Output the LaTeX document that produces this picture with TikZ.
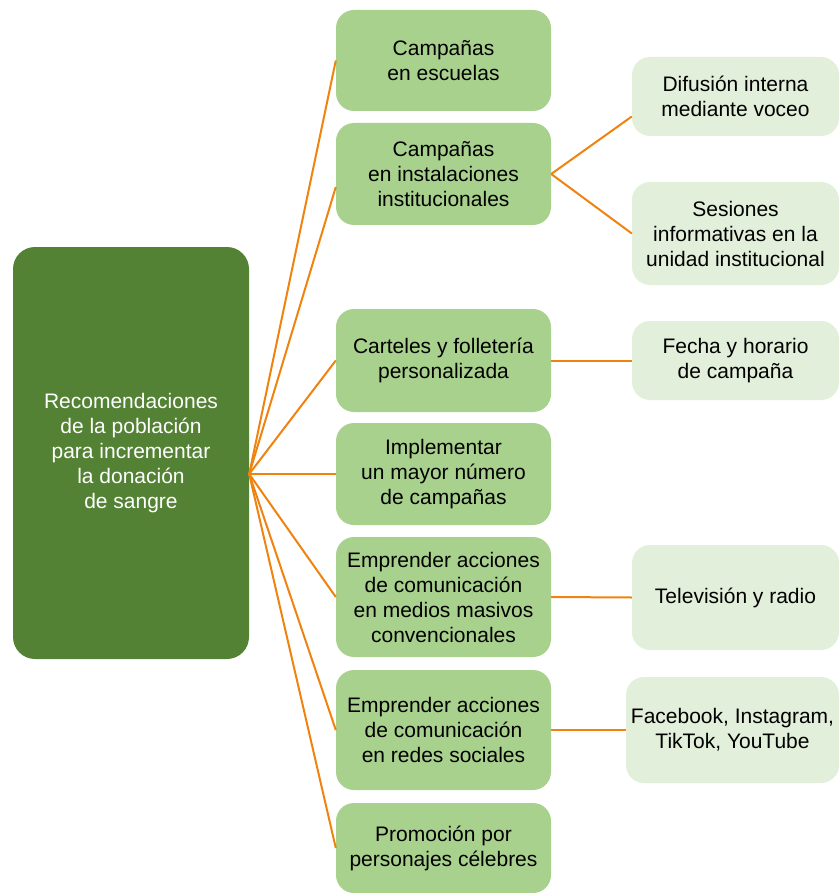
\documentclass[tikz,border=0pt]{standalone}
\usepackage{fontspec}
\setmainfont{Liberation Sans}
\usepackage{tikz}
\usetikzlibrary{calc}
\definecolor{darkgreen}{HTML}{548235}
\definecolor{midgreen}{HTML}{A9D18E}
\definecolor{palegreen}{HTML}{E2EFDA}
\definecolor{linkorange}{HTML}{F0820F}

\begin{document}
\begin{tikzpicture}[x=1pt,y=-1pt]
\tikzstyle{every node}+=[inner sep=0pt, align=center, font=\fontsize{21}{25}\selectfont]
\tikzstyle{rootbox}=[rectangle, rounded corners=22pt, fill=darkgreen, text=white, minimum width=236pt, minimum height=412pt]
\tikzstyle{midbox}=[rectangle, rounded corners=18pt, fill=midgreen, minimum width=215pt]
\tikzstyle{leafbox}=[rectangle, rounded corners=18pt, fill=palegreen, minimum width=207pt]
\tikzstyle{link}=[linkorange, line width=2pt]
\useasboundingbox (0,0) rectangle (839,893);
% root
\node [rootbox] (root) at (131,453) {Recomendaciones\\de la población\\para incrementar\\la donación\\de sangre};
\coordinate (hub) at ($(root.east)+(0,21)$);
% middle column
\node [midbox, minimum height=101pt] (m1) at (443.5,60.5) {Campañas\\en escuelas};
\node [midbox, minimum height=102pt] (m2) at (443.5,174) {Campañas\\en instalaciones\\institucionales};
\node [midbox, minimum height=103pt] (m3) at (443.5,360.5) {Carteles y folletería\\personalizada};
\node [midbox, minimum height=102pt] (m4) at (443.5,474) {Implementar\\un mayor número\\de campañas};
\node [midbox, minimum height=120pt] (m5) at (443.5,597) {Emprender acciones\\de comunicación\\en medios masivos\\convencionales};
\node [midbox, minimum height=120pt] (m6) at (443.5,730) {Emprender acciones\\de comunicación\\en redes sociales};
\node [midbox, minimum height=90pt] (m7) at (443.5,848) {Promoción por\\personajes célebres};
% right column
\node [leafbox, minimum height=79pt] (l1) at (735.5,96.5) {Difusión interna\\mediante voceo};
\node [leafbox, minimum height=103pt] (l2) at (735.5,233.5) {Sesiones\\informativas en la\\unidad institucional};
\node [leafbox, minimum height=79pt] (l3) at (735.5,360.5) {Fecha y horario\\de campaña};
\node [leafbox, minimum height=105pt] (l4) at (735.5,597.5) {Televisión y radio};
\node [leafbox, minimum width=213pt, minimum height=106pt] (l5) at (732.5,730) {Facebook, Instagram,\\TikTok, YouTube};
% links
\draw [link] (hub) -- (m1.west);
\draw [link] (hub) -- ($(m2.west)+(0,13)$);
\draw [link] (hub) -- (m3.west);
\draw [link] (hub) -- (m4.west);
\draw [link] (hub) -- (m5.west);
\draw [link] (hub) -- (m6.west);
\draw [link] (hub) -- (m7.west);
\draw [link] (m2.east) -- ($(l1.west)+(0,20)$);
\draw [link] (m2.east) -- (l2.west);
\draw [link] (m3.east) -- (l3.west);
\draw [link] (m5.east) -- (l4.west);
\draw [link] (m6.east) -- (l5.west);
\end{tikzpicture}
\end{document}
